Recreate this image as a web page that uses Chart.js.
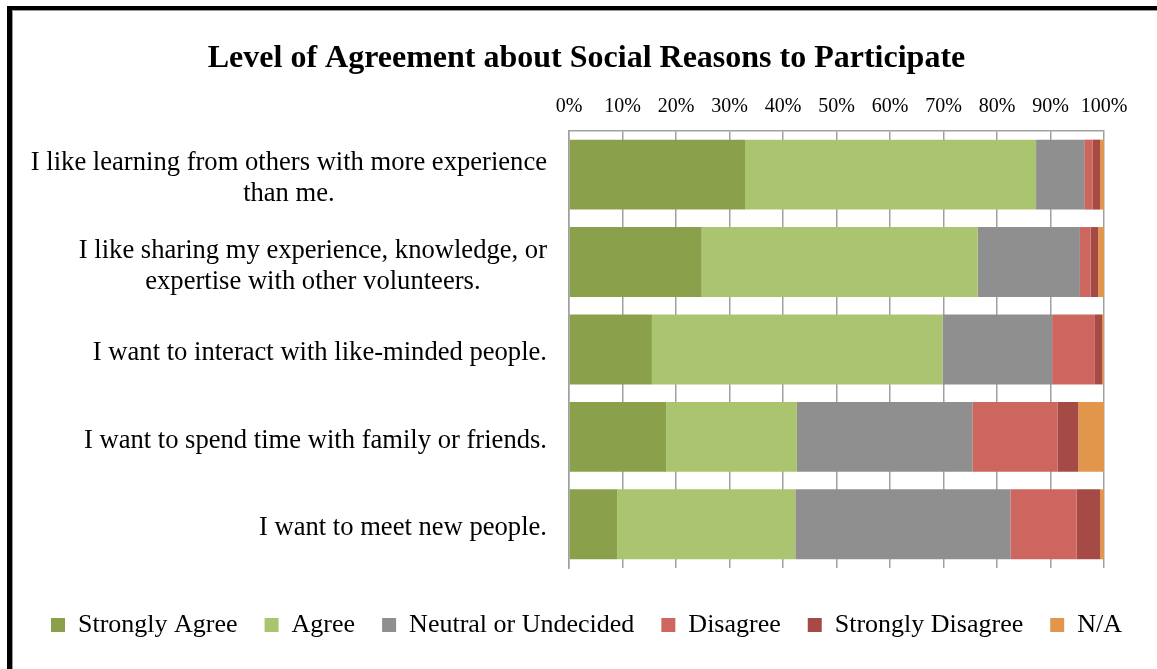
<!DOCTYPE html>
<html>
<head>
<meta charset="utf-8">
<title>Level of Agreement about Social Reasons to Participate</title>
<script src="https://cdn.jsdelivr.net/npm/chart.js@4.4.1/dist/chart.umd.min.js"></script>
<style>
  html, body { margin: 0; padding: 0; background: #fff; overflow: hidden; }
  #wrap { position: relative; width: 1157px; height: 669px; }
  #frame {
    position: absolute; left: 7px; top: 6px; right: -20px; bottom: -20px;
    border-left: 5px solid #000; border-top: 4px solid #000;
    box-shadow: inset 1px 1px 0 #9a9a9a; pointer-events: none;
  }
</style>
</head>
<body>
<div id="wrap">
  <canvas id="chart"></canvas>
  <div id="frame"></div>
</div>
<script>
const SERIF = '"Liberation Serif", "Times New Roman", serif';

// statements, split where the label wraps
const statements = [
  ['I like learning from others with more experience', 'than me.'],
  ['I like sharing my experience, knowledge, or', 'expertise with other volunteers.'],
  ['I want to interact with like-minded people.'],
  ['I want to spend time with family or friends.'],
  ['I want to meet new people.']
];

const responseLevels = ['Strongly Agree', 'Agree', 'Neutral or Undecided', 'Disagree', 'Strongly Disagree', 'N/A'];
const levelColors = ['#8aa04b', '#abc46f', '#8f8f8f', '#cd665f', '#a54a45', '#e2964b'];

// percent of respondents per statement
const stronglyAgree    = [32.9, 24.8, 15.5, 18.2, 9.0];
const agree            = [54.4, 51.6, 54.3, 24.4, 33.3];
const neutral          = [9.0, 19.1, 20.5, 32.8, 40.2];
const disagree         = [1.6, 2.0, 8.0, 15.9, 12.4];
const stronglyDisagree = [1.4, 1.4, 1.4, 3.9, 4.4];
const notApplicable    = [0.7, 1.1, 0.3, 4.8, 0.7];

const percentTicks = ['0%', '10%', '20%', '30%', '40%', '50%', '60%', '70%', '80%', '90%', '100%'];

const seriesValues = [stronglyAgree, agree, neutral, disagree, stronglyDisagree, notApplicable];

// y tick labels drawn by hand: right-aligned block, wrapped lines centred inside it
const wrappedLabels = {
  id: 'wrappedLabels',
  afterDraw(chart) {
    const ctx = chart.ctx;
    const yScale = chart.scales.y;
    ctx.save();
    ctx.font = '26.6px ' + SERIF;
    ctx.fillStyle = '#000';
    ctx.textAlign = 'center';
    ctx.textBaseline = 'middle';
    statements.forEach((lines, i) => {
      const yc = yScale.getPixelForValue(i) + 4;
      const w = Math.max(...lines.map(l => ctx.measureText(l).width));
      const x = yScale.right - 22 - w / 2;
      lines.forEach((line, k) => {
        ctx.fillText(line, x, yc + (k - (lines.length - 1) / 2) * 31);
      });
    });
    ctx.restore();
  }
};

new Chart(document.getElementById('chart'), {
  type: 'bar',
  data: {
    labels: statements.map(s => s.join(' ')),
    datasets: responseLevels.map((name, i) => ({
      label: name,
      data: seriesValues[i],
      backgroundColor: levelColors[i],
      borderWidth: 0,
      barPercentage: 0.8,
      categoryPercentage: 1.0
    }))
  },
  options: {
    indexAxis: 'y',
    responsive: true,
    maintainAspectRatio: false,
    animation: false,
    events: [],
    layout: { padding: { top: 39.5, left: 16, right: 0, bottom: 21 } },
    scales: {
      x: {
        position: 'top',
        stacked: true,
        min: 0,
        max: 100,
        grid: { color: '#a0a0a0', lineWidth: 1.5, drawTicks: false },
        border: { display: true, color: '#a0a0a0', width: 1.5 },
        ticks: {
          stepSize: 10,
          padding: 12,
          color: '#000',
          font: { size: 20, family: SERIF },
          callback: (v, i) => percentTicks[i]
        }
      },
      y: {
        stacked: true,
        grid: { display: false },
        border: { display: true, color: '#a0a0a0', width: 1.5 },
        ticks: { display: false },
        afterFit(scale) { scale.width = 553; }
      },
      // keeps room on the right of the plot
      spacer: {
        type: 'linear',
        position: 'right',
        grid: { display: false },
        border: { display: false },
        ticks: { display: false },
        afterFit(scale) { scale.width = 53; }
      }
    },
    plugins: {
      title: {
        display: true,
        text: 'Level of Agreement about Social Reasons to Participate',
        color: '#000',
        font: { size: 32, weight: 'bold', family: SERIF, lineHeight: 1.2 },
        padding: { top: 0, bottom: 5 }
      },
      legend: {
        position: 'bottom',
        title: { display: true, text: '', font: { size: 17, lineHeight: 1 }, padding: 0 },
        labels: {
          boxWidth: 14,
          boxHeight: 14,
          padding: 27,
          color: '#000',
          font: { size: 26, family: SERIF }
        }
      },
      tooltip: { enabled: false }
    }
  },
  plugins: [wrappedLabels]
});
</script>
</body>
</html>
